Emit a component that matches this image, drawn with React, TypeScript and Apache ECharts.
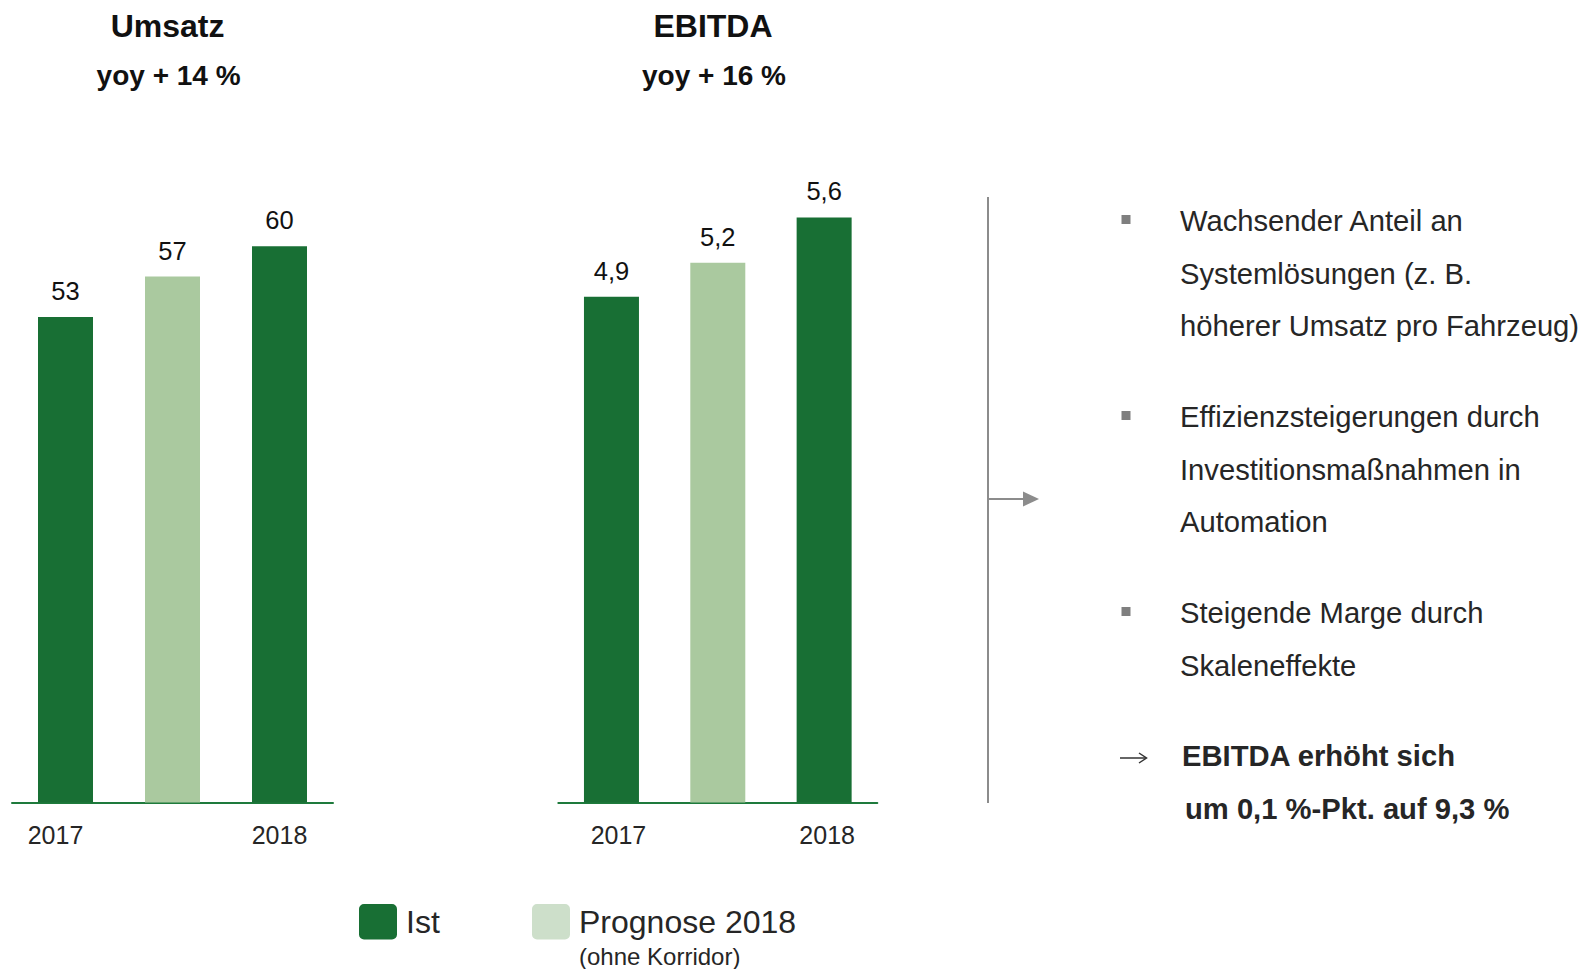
import React, { useEffect, useRef } from "react";
import * as echarts from "echarts";

const categories = ["2017", "Prognose 2018", "2018"];
const axisLabels = ["2017", "", "2018"];
const barKinds = ["Ist", "Prognose", "Ist"];
const umsatzValues = [53, 57, 60];
const ebitdaValues = [4.9, 5.2, 5.6];
const chartTitles = ["Umsatz", "EBITDA"];
const chartSubtitles = ["yoy + 14 %", "yoy + 16 %"];
const bulletBlocks = [
  ["Wachsender Anteil an", "Systemlösungen (z. B.", "höherer Umsatz pro Fahrzeug)"],
  ["Effizienzsteigerungen durch", "Investitionsmaßnahmen in", "Automation"],
  ["Steigende Marge durch", "Skaleneffekte"],
];
const conclusionLines = ["EBITDA erhöht sich", "um 0,1 %-Pkt. auf 9,3 %"];
const legendItems = ["Ist", "Prognose 2018"];
const legendNote = "(ohne Korridor)";

const DARK = "#186f34";
const LIGHT = "#aac99f";
const LEGEND_LIGHT = "#cddfca";
const FONT = "'Liberation Sans', Arial, Helvetica, sans-serif";
const TEXT = "#262626";

const fmt = (v: number) => String(v).replace(".", ",");

export default function App() {
  const ref = useRef<HTMLDivElement>(null);
  useEffect(() => {
    if (!ref.current) return;
    const chart = echarts.init(ref.current, undefined, { renderer: "svg" });

    const labelStyles = [
      [{ padding: [0, 20, 0, 0] }, {}, { padding: [0, 0, 0, 0] }],
      [{ padding: [0, 0, 0, 14] }, {}, { padding: [0, 0, 0, 6] }],
    ];

    const makeAxis = (gi: number) => ({
      type: "category",
      gridIndex: gi,
      data: axisLabels.map((l, i) => ({ value: l || categories[i], textStyle: labelStyles[gi][i] })),
      axisTick: { show: false },
      axisLine: { lineStyle: { color: "#1e7a3c", width: 2 } },
      axisLabel: {
        interval: 0,
        fontSize: 25,
        color: TEXT,
        fontFamily: FONT,
        margin: 20,
        formatter: (v: string) => (axisLabels.includes(v) ? v : ""),
      },
    });

    const makeSeries = (gi: number, values: number[]) => ({
      type: "bar",
      xAxisIndex: gi,
      yAxisIndex: gi,
      barWidth: 55,
      data: values.map((v, i) => ({
        value: v,
        itemStyle: { color: barKinds[i] === "Ist" ? DARK : LIGHT },
      })),
      label: {
        show: true,
        position: "top",
        distance: 13,
        fontSize: 25.5,
        color: "#111",
        fontFamily: FONT,
        formatter: (p: any) => fmt(p.value),
      },
    });

    const graphics: any[] = [];
    const titleX = [167.6, 713];
    chartTitles.forEach((t, i) => {
      graphics.push({
        type: "text",
        x: titleX[i],
        y: 26,
        style: { text: t, fontSize: 32, fontWeight: "bold", fill: "#111", fontFamily: FONT, align: "center", verticalAlign: "middle" },
      });
      graphics.push({
        type: "text",
        x: titleX[i] + 1,
        y: 75,
        style: { text: chartSubtitles[i], fontSize: 28, fontWeight: "bold", fill: "#111", fontFamily: FONT, align: "center", verticalAlign: "middle" },
      });
    });

    // divider and arrow
    graphics.push({ type: "line", shape: { x1: 988, y1: 197, x2: 988, y2: 803 }, style: { stroke: "#8c8c8c", lineWidth: 2 } });
    graphics.push({ type: "line", shape: { x1: 988, y1: 499, x2: 1025, y2: 499 }, style: { stroke: "#8c8c8c", lineWidth: 2 } });
    graphics.push({ type: "polygon", shape: { points: [[1023, 491.5], [1039, 499], [1023, 506.5]] }, style: { fill: "#8c8c8c" } });

    // bullet blocks
    const blockStarts = [221, 417, 613];
    const lh = 52.5;
    bulletBlocks.forEach((lines, bi) => {
      graphics.push({ type: "rect", shape: { x: 1121.5, y: blockStarts[bi] - 6, width: 9, height: 9 }, style: { fill: "#7f7f7f" } });
      lines.forEach((ln, li) => {
        graphics.push({
          type: "text",
          x: 1180,
          y: blockStarts[bi] + li * lh,
          style: { text: ln, fontSize: 29.2, fill: TEXT, fontFamily: FONT, align: "left", verticalAlign: "middle" },
        });
      });
    });
    // conclusion arrow
    graphics.push({ type: "line", shape: { x1: 1120, y1: 758, x2: 1146, y2: 758 }, style: { stroke: "#333", lineWidth: 1.5 } });
    graphics.push({ type: "polyline", shape: { points: [[1139, 753], [1146.5, 758], [1139, 763]] }, style: { stroke: "#333", lineWidth: 1.5, fill: "none" } });
    conclusionLines.forEach((ln, i) => {
      graphics.push({
        type: "text",
        x: 1182 + i * 3,
        y: 756 + i * lh,
        style: { text: ln, fontSize: 29.2, fontWeight: "bold", fill: TEXT, fontFamily: FONT, align: "left", verticalAlign: "middle" },
      });
    });

    // legend
    const legendRectX = [359, 532];
    const legendColors = [DARK, LEGEND_LIGHT];
    legendItems.forEach((l, i) => {
      graphics.push({ type: "rect", shape: { x: legendRectX[i], y: 904, width: 38, height: 35.5, r: 5 }, style: { fill: legendColors[i] } });
      graphics.push({
        type: "text",
        x: legendRectX[i] + 47,
        y: 922,
        style: { text: l, fontSize: 32, fill: TEXT, fontFamily: FONT, align: "left", verticalAlign: "middle" },
      });
    });
    graphics.push({
      type: "text",
      x: 579,
      y: 956,
      style: { text: legendNote, fontSize: 24, fill: TEXT, fontFamily: FONT, align: "left", verticalAlign: "middle" },
    });

    chart.setOption({
      animation: false,
      backgroundColor: "#ffffff",
      grid: [
        { left: 12, width: 321, top: 100, bottom: 166.4 },
        { left: 558.3, width: 319, top: 100, bottom: 166.4 },
      ],
      xAxis: [makeAxis(0), makeAxis(1)],
      yAxis: [
        { type: "value", gridIndex: 0, min: 4.9, max: 74.49, show: false, splitLine: { show: false } },
        { type: "value", gridIndex: 1, min: 0.435, max: 6.637, show: false, splitLine: { show: false } },
      ],
      series: [makeSeries(0, umsatzValues), makeSeries(1, ebitdaValues)],
      graphic: graphics,
    });

    return () => chart.dispose();
  }, []);

  return <div ref={ref} style={{ position: "absolute", left: 0, top: 0, width: 1583, height: 969 }} />;
}
